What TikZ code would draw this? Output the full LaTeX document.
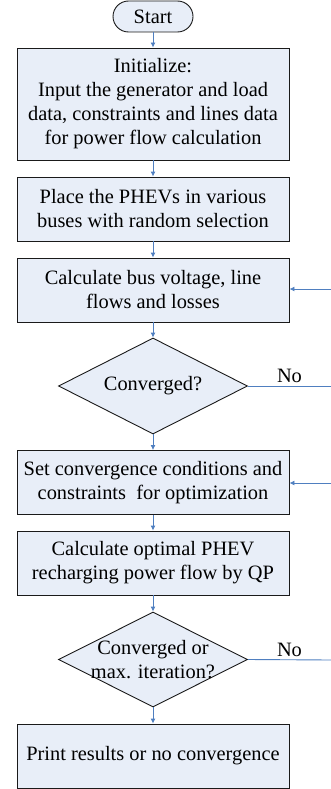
\documentclass[tikz,border=0pt]{standalone}
\usepackage{fontspec}
\setmainfont{Liberation Serif}
\usetikzlibrary{arrows.meta,shapes.geometric}
\definecolor{boxfill}{HTML}{E8EEF8}
\definecolor{linkblue}{HTML}{4F7FC0}
\definecolor{edge}{HTML}{1A1A1A}
\begin{document}
\begin{tikzpicture}[x=1pt,y=1pt,
  every node/.style={font=\fontsize{20.4}{24}\selectfont},
  procbox/.style={draw=edge, line width=0.9pt, fill=boxfill, minimum width=272pt, minimum height=64pt, inner sep=0pt, align=center},
  startbox/.style={draw=edge, line width=0.9pt, fill=boxfill, rounded corners=15.5pt, minimum width=80pt, minimum height=31pt, inner sep=0pt},
  decbox/.style={draw=edge, line width=0.9pt, fill=boxfill, diamond, aspect=1.97, minimum width=189pt, minimum height=96pt, inner sep=0pt},
  flow/.style={draw=linkblue, line width=0.9pt, -{Latex[length=5pt,width=5pt]}},
  plain/.style={draw=linkblue, line width=0.9pt}
]
\useasboundingbox (0,0) rectangle (331,-789);
\node[startbox] (start) at (153,-16.5) {Start};
\node[procbox, minimum height=112pt] (init) at (153,-104) {Initialize:\\Input the generator and load\\data, constraints and lines data\\for power flow calculation};
\node[procbox] (place) at (153,-209) {Place the PHEVs in various\\buses with random selection};
\node[procbox] (calc) at (153,-290) {Calculate bus voltage, line\\flows and losses};
\node[decbox] (conv) at (153,-386) {};
\node (convt) at (conv.center) {Converged?};
\node[procbox] (setc) at (153,-482.5) {Set convergence conditions and\\constraints\ \ for optimization};
\node[procbox] (opt) at (153,-563) {Calculate optimal PHEV\\recharging power flow by QP};
\node[decbox, minimum height=95pt] (conv2) at (153,-659.5) {};
\node[align=center] (conv2t) at (conv2.center) {Converged or\\max. iteration?};
\node[procbox] (print) at (153,-756) {Print results or no convergence};

\coordinate (r1) at (331,-289);
\coordinate (r2) at (331,-386);
\coordinate (r3) at (331,-483);
\coordinate (r4) at (331,-660);

\draw[flow] (start) -- (init);
\draw[flow] (init) -- (place);
\draw[flow] (place) -- (calc);
\draw[flow] (calc) -- (conv);
\draw[flow] (conv) -- (setc);
\draw[flow] (setc) -- (opt);
\draw[flow] (opt) -- (conv2);
\draw[flow] (conv2) -- (print);
\draw[flow] (r1) -- (calc.east |- r1);
\draw[flow] (r3) -- (setc.east |- r3);
\draw[plain] (conv.east) -- node[above, inner sep=3pt] (no1) {No} (r2);
\draw[plain] (conv2.east) -- node[above, inner sep=3pt] (no2) {No} (r4);
\end{tikzpicture}
\end{document}
